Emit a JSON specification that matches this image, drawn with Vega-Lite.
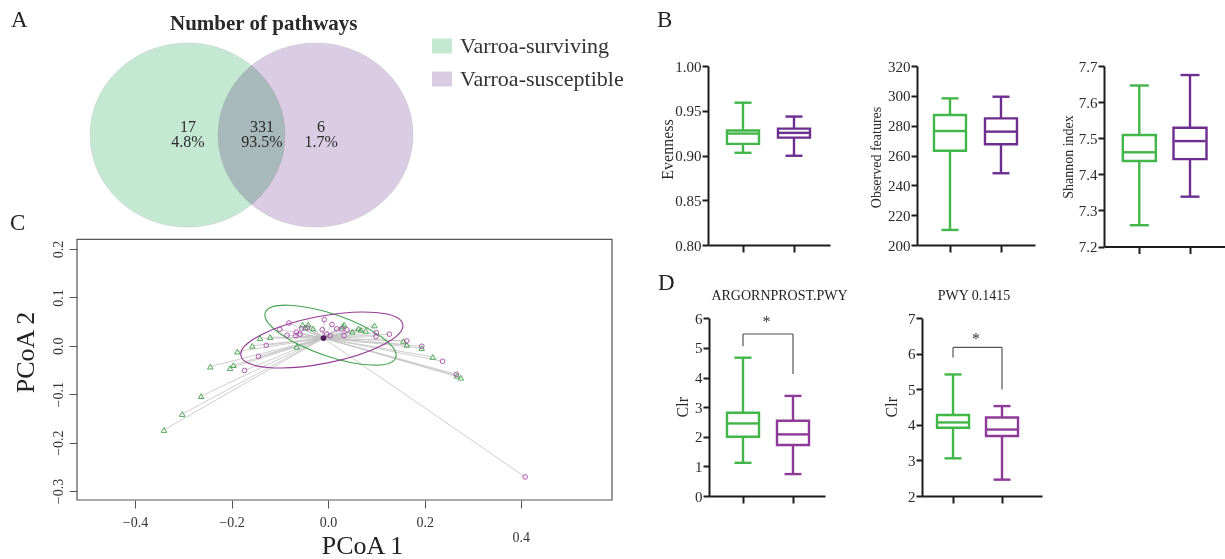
{
  "$schema": "https://vega.github.io/schema/vega-lite/v6.json",
  "width": 1225,
  "height": 559,
  "padding": 0,
  "autosize": {"type": "none"},
  "background": "white",
  "config": {
    "view": {"stroke": null},
    "font": "Liberation Serif",
    "text": {"font": "Liberation Serif", "color": "#222"},
    "axis": {
      "grid": false,
      "labelFont": "Liberation Serif",
      "titleFont": "Liberation Serif",
      "labelFontSize": 15,
      "titleFontSize": 15,
      "labelColor": "#2a2a2a",
      "titleColor": "#2a2a2a",
      "titleFontWeight": "normal",
      "domainColor": "#1c1c1c",
      "tickColor": "#1c1c1c",
      "domainWidth": 2,
      "tickWidth": 2,
      "tickSize": 6,
      "labelPadding": 1,
      "titleAlign": "center",
      "titleBaseline": "alphabetic"
    },
    "axisY": {"titleAngle": 270}
  },
  "datasets": {
    "venn": [
      {"set": "Varroa-surviving", "cx": 0, "cy": 0},
      {"set": "Varroa-susceptible", "cx": 1.313, "cy": 0}
    ],
    "regions": [
      {"region": "Varroa-surviving only", "n": "17", "pct": "4.8%", "lx": 0.005},
      {"region": "Both", "n": "331", "pct": "93.5%", "lx": 0.764},
      {"region": "Varroa-susceptible only", "n": "6", "pct": "1.7%", "lx": 1.37}
    ],
    "boxes": [
      {"panel": "B1", "grp": "Varroa-surviving", "pos": 1, "min": 0.903, "q1": 0.913, "med": 0.9245, "q3": 0.928, "max": 0.959},
      {"panel": "B1", "grp": "Varroa-susceptible", "pos": 2, "min": 0.8997, "q1": 0.92, "med": 0.9253, "q3": 0.93, "max": 0.9435},
      {"panel": "B2", "grp": "Varroa-surviving", "pos": 1, "min": 210.1, "q1": 263.2, "med": 276.4, "q3": 287.2, "max": 298.3},
      {"panel": "B2", "grp": "Varroa-susceptible", "pos": 2, "min": 248.1, "q1": 267.5, "med": 276.0, "q3": 284.9, "max": 299.4},
      {"panel": "B3", "grp": "Varroa-surviving", "pos": 1, "min": 7.259, "q1": 7.437, "med": 7.461, "q3": 7.509, "max": 7.646},
      {"panel": "B3", "grp": "Varroa-susceptible", "pos": 2, "min": 7.338, "q1": 7.442, "med": 7.492, "q3": 7.529, "max": 7.675},
      {"panel": "D1", "grp": "Varroa-surviving", "pos": 1, "min": 1.12, "q1": 2.0, "med": 2.45, "q3": 2.81, "max": 4.67},
      {"panel": "D1", "grp": "Varroa-susceptible", "pos": 2, "min": 0.74, "q1": 1.72, "med": 2.08, "q3": 2.54, "max": 3.38},
      {"panel": "D2", "grp": "Varroa-surviving", "pos": 1, "min": 3.06, "q1": 3.92, "med": 4.07, "q3": 4.28, "max": 5.42},
      {"panel": "D2", "grp": "Varroa-susceptible", "pos": 2, "min": 2.46, "q1": 3.69, "med": 3.87, "q3": 4.21, "max": 4.53}
    ],
    "sig": [
      {"panel": "D1", "top": 5.47, "left": 5.06, "right": 4.12, "label": "*", "stary": 5.72},
      {"panel": "D2", "top": 6.18, "left": 5.9, "right": 5.0, "label": "*", "stary": 6.28}
    ],
    "centroids": [
      {"grp": "Varroa-surviving", "cx": -0.009, "cy": 0.016},
      {"grp": "Varroa-susceptible", "cx": -0.01, "cy": 0.016}
    ],
    "ellipses": [
      {"grp": "Varroa-surviving", "x": 0.005, "y": 0.022},
      {"grp": "Varroa-susceptible", "x": -0.013, "y": 0.012}
    ],
    "pcoa": [
      {"grp": "Varroa-surviving", "x": -0.34, "y": -0.174},
      {"grp": "Varroa-surviving", "x": -0.302, "y": -0.141},
      {"grp": "Varroa-surviving", "x": -0.263, "y": -0.104},
      {"grp": "Varroa-surviving", "x": -0.244, "y": -0.043},
      {"grp": "Varroa-surviving", "x": -0.203, "y": -0.046},
      {"grp": "Varroa-surviving", "x": -0.196, "y": -0.04},
      {"grp": "Varroa-surviving", "x": -0.188, "y": -0.012},
      {"grp": "Varroa-surviving", "x": -0.157, "y": 0.0},
      {"grp": "Varroa-surviving", "x": -0.141, "y": 0.016},
      {"grp": "Varroa-surviving", "x": -0.12, "y": 0.018},
      {"grp": "Varroa-surviving", "x": -0.065, "y": -0.002},
      {"grp": "Varroa-surviving", "x": -0.053, "y": 0.044},
      {"grp": "Varroa-surviving", "x": -0.041, "y": 0.044},
      {"grp": "Varroa-surviving", "x": -0.047, "y": 0.038},
      {"grp": "Varroa-surviving", "x": -0.031, "y": 0.036},
      {"grp": "Varroa-surviving", "x": 0.033, "y": 0.044},
      {"grp": "Varroa-surviving", "x": 0.031, "y": 0.04},
      {"grp": "Varroa-surviving", "x": 0.05, "y": 0.029},
      {"grp": "Varroa-surviving", "x": 0.063, "y": 0.036},
      {"grp": "Varroa-surviving", "x": 0.068, "y": 0.033},
      {"grp": "Varroa-surviving", "x": 0.078, "y": 0.031},
      {"grp": "Varroa-surviving", "x": 0.096, "y": 0.042},
      {"grp": "Varroa-surviving", "x": 0.156, "y": 0.01},
      {"grp": "Varroa-surviving", "x": 0.163, "y": 0.002},
      {"grp": "Varroa-surviving", "x": 0.194, "y": -0.005},
      {"grp": "Varroa-surviving", "x": 0.217, "y": -0.023},
      {"grp": "Varroa-surviving", "x": 0.275, "y": -0.066},
      {"grp": "Varroa-surviving", "x": 0.267, "y": -0.062},
      {"grp": "Varroa-susceptible", "x": -0.173, "y": -0.051},
      {"grp": "Varroa-susceptible", "x": -0.144, "y": -0.022},
      {"grp": "Varroa-susceptible", "x": -0.128, "y": 0.001},
      {"grp": "Varroa-susceptible", "x": -0.1, "y": 0.034},
      {"grp": "Varroa-susceptible", "x": -0.081, "y": 0.047},
      {"grp": "Varroa-susceptible", "x": -0.085, "y": 0.022},
      {"grp": "Varroa-susceptible", "x": -0.066, "y": 0.028},
      {"grp": "Varroa-susceptible", "x": -0.067, "y": 0.021},
      {"grp": "Varroa-susceptible", "x": -0.058, "y": 0.024},
      {"grp": "Varroa-susceptible", "x": -0.055, "y": 0.035},
      {"grp": "Varroa-susceptible", "x": -0.043, "y": 0.037},
      {"grp": "Varroa-susceptible", "x": -0.008, "y": 0.054},
      {"grp": "Varroa-susceptible", "x": 0.008, "y": 0.044},
      {"grp": "Varroa-susceptible", "x": -0.012, "y": 0.033},
      {"grp": "Varroa-susceptible", "x": -0.003, "y": 0.024},
      {"grp": "Varroa-susceptible", "x": 0.004, "y": 0.021},
      {"grp": "Varroa-susceptible", "x": 0.018, "y": 0.035},
      {"grp": "Varroa-susceptible", "x": 0.028, "y": 0.035},
      {"grp": "Varroa-susceptible", "x": 0.039, "y": 0.033},
      {"grp": "Varroa-susceptible", "x": 0.033, "y": 0.021},
      {"grp": "Varroa-susceptible", "x": 0.1, "y": 0.027},
      {"grp": "Varroa-susceptible", "x": 0.099, "y": 0.019},
      {"grp": "Varroa-susceptible", "x": 0.127, "y": 0.024},
      {"grp": "Varroa-susceptible", "x": 0.163, "y": 0.01},
      {"grp": "Varroa-susceptible", "x": 0.194, "y": -0.001},
      {"grp": "Varroa-susceptible", "x": 0.237, "y": -0.032},
      {"grp": "Varroa-susceptible", "x": 0.266, "y": -0.059},
      {"grp": "Varroa-susceptible", "x": 0.408, "y": -0.271}
    ]
  },
  "resolve": {
    "scale": {"x": "independent", "y": "independent", "color": "independent", "stroke": "independent"},
    "axis": {"x": "independent", "y": "independent"},
    "legend": {"color": "independent", "stroke": "independent"}
  },
  "layer": [
    {
      "layer": [
        {
          "data": {"name": "venn"},
          "mark": {"type": "point", "shape": "M-1,0C-1,-0.521,-0.552,-0.944,0,-0.944C0.552,-0.944,1,-0.521,1,0C1,0.521,0.552,0.944,0,0.944C-0.552,0.944,-1,0.521,-1,0Z", "size": 38025, "filled": true, "opacity": 1, "blend": "multiply", "stroke": "#b4b4bc", "strokeWidth": 0.6, "strokeOpacity": 0.5},
          "encoding": {
            "x": {"field": "cx", "type": "quantitative", "scale": {"domain": [-2, 4.6], "range": [-7.5, 636], "nice": false, "zero": false, "padding": 0}, "axis": null},
            "y": {"field": "cy", "type": "quantitative", "scale": {"domain": [-1, 1], "range": [227, 43], "nice": false, "zero": false, "padding": 0}, "axis": null},
            "color": {
              "field": "set", "type": "nominal",
              "scale": {"domain": ["Varroa-surviving", "Varroa-susceptible"], "range": ["#c5e8d3", "#dacce3"]},
              "legend": {"orient": "none", "legendX": 431, "legendY": 35, "title": null, "symbolType": "M-1,-0.75L1,-0.75L1,0.75L-1,0.75Z", "symbolSize": 400, "symbolStrokeWidth": 0, "symbolOpacity": 1, "labelFont": "Liberation Serif", "labelFontSize": 22, "labelColor": "#333", "labelOffset": 7, "labelLimit": 0, "rowPadding": 11, "padding": 0}
            }
          }
        },
        {
          "data": {"name": "regions"},
          "mark": {"type": "text", "fontSize": 16, "align": "center", "baseline": "alphabetic", "color": "#2a2a2a"},
          "encoding": {"text": {"field": "n"}, "x": {"field": "lx", "type": "quantitative"}, "y": {"datum": 0.036}}
        },
        {
          "data": {"name": "regions"},
          "mark": {"type": "text", "fontSize": 16, "align": "center", "baseline": "alphabetic", "color": "#2a2a2a"},
          "encoding": {"text": {"field": "pct"}, "x": {"field": "lx", "type": "quantitative"}, "y": {"datum": -0.127}}
        },
        {
          "data": {"values": [{"t": "Number of pathways"}]},
          "mark": {"type": "text", "fontSize": 21, "fontWeight": "bold", "align": "center", "baseline": "alphabetic", "color": "#2a2a2a"},
          "encoding": {"text": {"field": "t"}, "x": {"datum": 0.782}, "y": {"datum": 1.141}}
        },
        {
          "data": {"values": [{"t": "A"}]},
          "mark": {"type": "text", "fontSize": 23, "align": "left", "baseline": "alphabetic", "color": "#222"},
          "encoding": {"text": {"field": "t"}, "x": {"datum": -1.81}, "y": {"datum": 1.174}}
        }
      ]
    },
    {
      "layer": [
        {
          "data": {"name": "pcoa"},
          "transform": [{"lookup": "grp", "from": {"data": {"name": "centroids"}, "key": "grp", "fields": ["cx", "cy"]}}],
          "mark": {"type": "rule", "color": "#c2c2c2", "strokeWidth": 0.8},
          "encoding": {
            "x": {"field": "x", "type": "quantitative", "scale": {"domain": [-0.52, 0.588], "range": [77, 612], "nice": false, "zero": false, "padding": 0},
              "axis": {"orient": "bottom", "offset": -59, "values": [-0.4, -0.2, 0, 0.2, 0.4], "format": ".1f", "labelExpr": "datum.value > 0.3 ? '' : datum.label", "domain": false, "tickSize": 8, "tickWidth": 1, "tickColor": "#555", "labelFontSize": 14, "labelColor": "#333", "labelBaseline": "alphabetic", "labelPadding": 18, "labelFlush": false, "title": "PCoA 1", "titleFontSize": 26, "titleColor": "#222", "titleX": 362, "titleY": 53, "titleAngle": 0}},
            "y": {"field": "y", "type": "quantitative", "scale": {"domain": [-0.3186, 0.22], "range": [500, 239.3], "nice": false, "zero": false, "padding": 0},
              "axis": {"orient": "left", "offset": -77, "values": [-0.3, -0.2, -0.1, 0, 0.1, 0.2], "format": ".1f", "domain": false, "tickSize": 8, "tickWidth": 1, "tickColor": "#555", "labelFontSize": 14, "labelColor": "#333", "labelAngle": 270, "labelAlign": "center", "labelBaseline": "alphabetic", "labelPadding": 7, "title": "PCoA 2", "titleFontSize": 26, "titleColor": "#222", "titleX": -43.5, "titleY": 352}},
            "x2": {"field": "cx"},
            "y2": {"field": "cy"}
          }
        },
        {
          "data": {"values": [{}]},
          "mark": {"type": "rect", "filled": false, "color": "#555", "strokeWidth": 1.2},
          "encoding": {"x": {"datum": -0.52}, "x2": {"datum": 0.588}, "y": {"datum": -0.3186}, "y2": {"datum": 0.22}}
        },
        {
          "data": {"name": "ellipses"},
          "transform": [{"filter": "datum.grp === 'Varroa-surviving'"}],
          "mark": {"type": "point", "shape": "M-1,0C-1,-0.168,-0.552,-0.304,0,-0.304C0.552,-0.304,1,-0.168,1,0C1,0.168,0.552,0.304,0,0.304C-0.552,0.304,-1,0.168,-1,0Z", "size": 19044, "angle": 19, "filled": false, "opacity": 1, "color": "#45a352", "strokeWidth": 1.1},
          "encoding": {"x": {"field": "x", "type": "quantitative"}, "y": {"field": "y", "type": "quantitative"}}
        },
        {
          "data": {"name": "ellipses"},
          "transform": [{"filter": "datum.grp === 'Varroa-susceptible'"}],
          "mark": {"type": "point", "shape": "M-1,0C-1,-0.158,-0.552,-0.286,0,-0.286C0.552,-0.286,1,-0.158,1,0C1,0.158,0.552,0.286,0,0.286C-0.552,0.286,-1,0.158,-1,0Z", "size": 27225, "angle": -11, "filled": false, "opacity": 1, "color": "#953a94", "strokeWidth": 1.1},
          "encoding": {"x": {"field": "x", "type": "quantitative"}, "y": {"field": "y", "type": "quantitative"}}
        },
        {
          "data": {"name": "pcoa"},
          "transform": [{"filter": "datum.grp === 'Varroa-surviving'"}],
          "mark": {"type": "point", "shape": "triangle-up", "size": 30, "filled": false, "opacity": 1, "color": "#3f9f4a", "strokeWidth": 0.9},
          "encoding": {"x": {"field": "x", "type": "quantitative"}, "y": {"field": "y", "type": "quantitative"}}
        },
        {
          "data": {"name": "pcoa"},
          "transform": [{"filter": "datum.grp === 'Varroa-susceptible'"}],
          "mark": {"type": "point", "shape": "circle", "size": 22, "filled": false, "opacity": 1, "color": "#a64aa6", "strokeWidth": 0.9},
          "encoding": {"x": {"field": "x", "type": "quantitative"}, "y": {"field": "y", "type": "quantitative"}}
        },
        {
          "data": {"name": "centroids"},
          "mark": {"type": "point", "shape": "circle", "size": 28, "filled": true, "opacity": 1, "color": "#4f1a5c"},
          "encoding": {"x": {"field": "cx", "type": "quantitative"}, "y": {"field": "cy", "type": "quantitative"}}
        },
        {
          "data": {"values": [{"t": "0.4"}]},
          "mark": {"type": "text", "fontSize": 14, "align": "center", "baseline": "alphabetic", "color": "#333"},
          "encoding": {"text": {"field": "t"}, "x": {"datum": 0.4}, "y": {"datum": -0.405}}
        },
        {
          "data": {"values": [{"t": "C"}]},
          "mark": {"type": "text", "fontSize": 23, "align": "left", "baseline": "alphabetic", "color": "#222"},
          "encoding": {"text": {"field": "t"}, "x": {"datum": -0.659}, "y": {"datum": 0.239}}
        }
      ]
    },
    {
      "layer": [
        {
          "data": {"name": "boxes"},
          "transform": [{"filter": "datum.panel === 'B1'"}],
          "encoding": {
            "x": {"field": "pos", "type": "quantitative", "scale": {"domain": [0.314, 2.706], "range": [708, 830], "nice": false, "zero": false, "padding": 0},
              "axis": {"orient": "bottom", "offset": -314, "values": [1, 2], "labels": false, "title": null, "tickSize": 7}}
          },
          "layer": [
            {
              "mark": {"type": "rule", "strokeWidth": 2.4},
              "encoding": {
                "y": {"field": "min", "type": "quantitative", "scale": {"domain": [0.8, 1.0], "range": [245, 66], "nice": false, "zero": false, "padding": 0},
                  "axis": {"orient": "left", "offset": -708, "values": [0.8, 0.85, 0.9, 0.95, 1.0], "format": ".2f", "title": "Evenness", "titleFontSize": 16, "titleX": -36, "titleY": 149}},
                "y2": {"field": "max"},
                "color": {"field": "grp", "type": "nominal", "scale": {"domain": ["Varroa-surviving", "Varroa-susceptible"], "range": ["#42b649", "#6c2e8f"]}, "legend": null}
              }
            },
            {
              "mark": {"type": "bar", "width": 32, "fill": "white", "strokeWidth": 2.4, "opacity": 1},
              "encoding": {
                "y": {"field": "q1", "type": "quantitative"}, "y2": {"field": "q3"},
                "stroke": {"field": "grp", "type": "nominal", "scale": {"domain": ["Varroa-surviving", "Varroa-susceptible"], "range": ["#42b649", "#6c2e8f"]}, "legend": null}
              }
            },
            {
              "mark": {"type": "tick", "orient": "horizontal", "size": 30, "thickness": 2.4, "opacity": 1},
              "encoding": {"y": {"field": "med", "type": "quantitative"}, "color": {"field": "grp", "type": "nominal", "legend": null}}
            },
            {
              "mark": {"type": "tick", "orient": "horizontal", "size": 17, "thickness": 2.4, "opacity": 1},
              "encoding": {"y": {"field": "min", "type": "quantitative"}, "color": {"field": "grp", "type": "nominal", "legend": null}}
            },
            {
              "mark": {"type": "tick", "orient": "horizontal", "size": 17, "thickness": 2.4, "opacity": 1},
              "encoding": {"y": {"field": "max", "type": "quantitative"}, "color": {"field": "grp", "type": "nominal", "legend": null}}
            }
          ]
        },
        {
          "data": {"values": [{"t": "B"}]},
          "mark": {"type": "text", "fontSize": 23, "align": "left", "baseline": "alphabetic", "color": "#222"},
          "encoding": {"text": {"field": "t"}, "x": {"datum": -0.686}, "y": {"datum": 1.0438}}
        }
      ]
    },
    {
      "data": {"name": "boxes"},
      "transform": [{"filter": "datum.panel === 'B2'"}],
      "encoding": {
        "x": {"field": "pos", "type": "quantitative", "scale": {"domain": [0.353, 2.667], "range": [917, 1035], "nice": false, "zero": false, "padding": 0},
          "axis": {"orient": "bottom", "offset": -314, "values": [1, 2], "labels": false, "title": null, "tickSize": 7}}
      },
      "layer": [
        {
          "mark": {"type": "rule", "strokeWidth": 2.4},
          "encoding": {
            "y": {"field": "min", "type": "quantitative", "scale": {"domain": [200, 320], "range": [245, 66], "nice": false, "zero": false, "padding": 0},
              "axis": {"orient": "left", "offset": -917, "values": [200, 220, 240, 260, 280, 300, 320], "format": "d", "title": "Observed features", "titleFontSize": 14, "titleX": -37, "titleY": 157}},
            "y2": {"field": "max"},
            "color": {"field": "grp", "type": "nominal", "scale": {"domain": ["Varroa-surviving", "Varroa-susceptible"], "range": ["#42b649", "#6c2e8f"]}, "legend": null}
          }
        },
        {
          "mark": {"type": "bar", "width": 32, "fill": "white", "strokeWidth": 2.4, "opacity": 1},
          "encoding": {
            "y": {"field": "q1", "type": "quantitative"}, "y2": {"field": "q3"},
            "stroke": {"field": "grp", "type": "nominal", "scale": {"domain": ["Varroa-surviving", "Varroa-susceptible"], "range": ["#42b649", "#6c2e8f"]}, "legend": null}
          }
        },
        {
          "mark": {"type": "tick", "orient": "horizontal", "size": 30, "thickness": 2.4, "opacity": 1},
          "encoding": {"y": {"field": "med", "type": "quantitative"}, "color": {"field": "grp", "type": "nominal", "legend": null}}
        },
        {
          "mark": {"type": "tick", "orient": "horizontal", "size": 17, "thickness": 2.4, "opacity": 1},
          "encoding": {"y": {"field": "min", "type": "quantitative"}, "color": {"field": "grp", "type": "nominal", "legend": null}}
        },
        {
          "mark": {"type": "tick", "orient": "horizontal", "size": 17, "thickness": 2.4, "opacity": 1},
          "encoding": {"y": {"field": "max", "type": "quantitative"}, "color": {"field": "grp", "type": "nominal", "legend": null}}
        }
      ]
    },
    {
      "data": {"name": "boxes"},
      "transform": [{"filter": "datum.panel === 'B3'"}],
      "encoding": {
        "x": {"field": "pos", "type": "quantitative", "scale": {"domain": [0.304, 2.69], "range": [1104, 1225], "nice": false, "zero": false, "padding": 0},
          "axis": {"orient": "bottom", "offset": -312.5, "values": [1, 2], "labels": false, "title": null, "tickSize": 7}}
      },
      "layer": [
        {
          "mark": {"type": "rule", "strokeWidth": 2.4},
          "encoding": {
            "y": {"field": "min", "type": "quantitative", "scale": {"domain": [7.2, 7.7], "range": [246.5, 66], "nice": false, "zero": false, "padding": 0},
              "axis": {"orient": "left", "offset": -1104, "values": [7.2, 7.3, 7.4, 7.5, 7.6, 7.7], "format": ".1f", "title": "Shannon index", "titleFontSize": 14, "titleX": -32, "titleY": 156.5}},
            "y2": {"field": "max"},
            "color": {"field": "grp", "type": "nominal", "scale": {"domain": ["Varroa-surviving", "Varroa-susceptible"], "range": ["#42b649", "#6c2e8f"]}, "legend": null}
          }
        },
        {
          "mark": {"type": "bar", "width": 33, "fill": "white", "strokeWidth": 2.4, "opacity": 1},
          "encoding": {
            "y": {"field": "q1", "type": "quantitative"}, "y2": {"field": "q3"},
            "stroke": {"field": "grp", "type": "nominal", "scale": {"domain": ["Varroa-surviving", "Varroa-susceptible"], "range": ["#42b649", "#6c2e8f"]}, "legend": null}
          }
        },
        {
          "mark": {"type": "tick", "orient": "horizontal", "size": 31, "thickness": 2.4, "opacity": 1},
          "encoding": {"y": {"field": "med", "type": "quantitative"}, "color": {"field": "grp", "type": "nominal", "legend": null}}
        },
        {
          "mark": {"type": "tick", "orient": "horizontal", "size": 19, "thickness": 2.4, "opacity": 1},
          "encoding": {"y": {"field": "min", "type": "quantitative"}, "color": {"field": "grp", "type": "nominal", "legend": null}}
        },
        {
          "mark": {"type": "tick", "orient": "horizontal", "size": 19, "thickness": 2.4, "opacity": 1},
          "encoding": {"y": {"field": "max", "type": "quantitative"}, "color": {"field": "grp", "type": "nominal", "legend": null}}
        }
      ]
    },
    {
      "layer": [
        {
          "data": {"name": "boxes"},
          "transform": [{"filter": "datum.panel === 'D1'"}],
          "encoding": {
            "x": {"field": "pos", "type": "quantitative", "scale": {"domain": [0.32, 2.64], "range": [709, 825], "nice": false, "zero": false, "padding": 0},
              "axis": {"orient": "bottom", "offset": -63, "values": [1, 2], "labels": false, "title": null, "tickSize": 7}}
          },
          "layer": [
            {
              "mark": {"type": "rule", "strokeWidth": 2.4},
              "encoding": {
                "y": {"field": "min", "type": "quantitative", "scale": {"domain": [0, 6], "range": [496, 318.3], "nice": false, "zero": false, "padding": 0},
                  "axis": {"orient": "left", "offset": -709, "values": [0, 1, 2, 3, 4, 5, 6], "format": "d", "title": "Clr", "titleFontSize": 16, "titleX": -22, "titleY": 406.7}},
                "y2": {"field": "max"},
                "color": {"field": "grp", "type": "nominal", "scale": {"domain": ["Varroa-surviving", "Varroa-susceptible"], "range": ["#42b649", "#8d3a98"]}, "legend": null}
              }
            },
            {
              "mark": {"type": "bar", "width": 32, "fill": "white", "strokeWidth": 2.4, "opacity": 1},
              "encoding": {
                "y": {"field": "q1", "type": "quantitative"}, "y2": {"field": "q3"},
                "stroke": {"field": "grp", "type": "nominal", "scale": {"domain": ["Varroa-surviving", "Varroa-susceptible"], "range": ["#42b649", "#8d3a98"]}, "legend": null}
              }
            },
            {
              "mark": {"type": "tick", "orient": "horizontal", "size": 30, "thickness": 2.4, "opacity": 1},
              "encoding": {"y": {"field": "med", "type": "quantitative"}, "color": {"field": "grp", "type": "nominal", "legend": null}}
            },
            {
              "mark": {"type": "tick", "orient": "horizontal", "size": 17, "thickness": 2.4, "opacity": 1},
              "encoding": {"y": {"field": "min", "type": "quantitative"}, "color": {"field": "grp", "type": "nominal", "legend": null}}
            },
            {
              "mark": {"type": "tick", "orient": "horizontal", "size": 17, "thickness": 2.4, "opacity": 1},
              "encoding": {"y": {"field": "max", "type": "quantitative"}, "color": {"field": "grp", "type": "nominal", "legend": null}}
            }
          ]
        },
        {
          "data": {"name": "sig"},
          "transform": [{"filter": "datum.panel === 'D1'"}],
          "layer": [
            {
              "mark": {"type": "rule", "color": "#555", "strokeWidth": 1.2},
              "encoding": {"x": {"datum": 1}, "x2": {"datum": 2}, "y": {"field": "top", "type": "quantitative"}}
            },
            {
              "mark": {"type": "rule", "color": "#555", "strokeWidth": 1.2},
              "encoding": {"x": {"datum": 1}, "y": {"field": "top", "type": "quantitative"}, "y2": {"field": "left"}}
            },
            {
              "mark": {"type": "rule", "color": "#555", "strokeWidth": 1.2},
              "encoding": {"x": {"datum": 2}, "y": {"field": "top", "type": "quantitative"}, "y2": {"field": "right"}}
            },
            {
              "mark": {"type": "text", "fontSize": 16, "align": "center", "baseline": "alphabetic", "color": "#333"},
              "encoding": {"text": {"field": "label"}, "x": {"datum": 1.47}, "y": {"field": "stary", "type": "quantitative"}}
            }
          ]
        },
        {
          "data": {"values": [{"t": "ARGORNPROST.PWY"}]},
          "mark": {"type": "text", "fontSize": 14, "align": "center", "baseline": "alphabetic", "color": "#222"},
          "encoding": {"text": {"field": "t"}, "x": {"datum": 1.73}, "y": {"datum": 6.618}}
        },
        {
          "data": {"values": [{"t": "D"}]},
          "mark": {"type": "text", "fontSize": 23, "align": "left", "baseline": "alphabetic", "color": "#222"},
          "encoding": {"text": {"field": "t"}, "x": {"datum": -0.7}, "y": {"datum": 6.955}}
        }
      ]
    },
    {
      "layer": [
        {
          "data": {"name": "boxes"},
          "transform": [{"filter": "datum.panel === 'D2'"}],
          "encoding": {
            "x": {"field": "pos", "type": "quantitative", "scale": {"domain": [0.367, 2.816], "range": [922, 1042], "nice": false, "zero": false, "padding": 0},
              "axis": {"orient": "bottom", "offset": -63, "values": [1, 2], "labels": false, "title": null, "tickSize": 7}}
          },
          "layer": [
            {
              "mark": {"type": "rule", "strokeWidth": 2.4},
              "encoding": {
                "y": {"field": "min", "type": "quantitative", "scale": {"domain": [2, 7], "range": [496, 318.3], "nice": false, "zero": false, "padding": 0},
                  "axis": {"orient": "left", "offset": -922, "values": [2, 3, 4, 5, 6, 7], "format": "d", "title": "Clr", "titleFontSize": 16, "titleX": -25.3, "titleY": 406.7}},
                "y2": {"field": "max"},
                "color": {"field": "grp", "type": "nominal", "scale": {"domain": ["Varroa-surviving", "Varroa-susceptible"], "range": ["#42b649", "#8d3a98"]}, "legend": null}
              }
            },
            {
              "mark": {"type": "bar", "width": 32, "fill": "white", "strokeWidth": 2.4, "opacity": 1},
              "encoding": {
                "y": {"field": "q1", "type": "quantitative"}, "y2": {"field": "q3"},
                "stroke": {"field": "grp", "type": "nominal", "scale": {"domain": ["Varroa-surviving", "Varroa-susceptible"], "range": ["#42b649", "#8d3a98"]}, "legend": null}
              }
            },
            {
              "mark": {"type": "tick", "orient": "horizontal", "size": 30, "thickness": 2.4, "opacity": 1},
              "encoding": {"y": {"field": "med", "type": "quantitative"}, "color": {"field": "grp", "type": "nominal", "legend": null}}
            },
            {
              "mark": {"type": "tick", "orient": "horizontal", "size": 17, "thickness": 2.4, "opacity": 1},
              "encoding": {"y": {"field": "min", "type": "quantitative"}, "color": {"field": "grp", "type": "nominal", "legend": null}}
            },
            {
              "mark": {"type": "tick", "orient": "horizontal", "size": 17, "thickness": 2.4, "opacity": 1},
              "encoding": {"y": {"field": "max", "type": "quantitative"}, "color": {"field": "grp", "type": "nominal", "legend": null}}
            }
          ]
        },
        {
          "data": {"name": "sig"},
          "transform": [{"filter": "datum.panel === 'D2'"}],
          "layer": [
            {
              "mark": {"type": "rule", "color": "#555", "strokeWidth": 1.2},
              "encoding": {"x": {"datum": 1}, "x2": {"datum": 2}, "y": {"field": "top", "type": "quantitative"}}
            },
            {
              "mark": {"type": "rule", "color": "#555", "strokeWidth": 1.2},
              "encoding": {"x": {"datum": 1}, "y": {"field": "top", "type": "quantitative"}, "y2": {"field": "left"}}
            },
            {
              "mark": {"type": "rule", "color": "#555", "strokeWidth": 1.2},
              "encoding": {"x": {"datum": 2}, "y": {"field": "top", "type": "quantitative"}, "y2": {"field": "right"}}
            },
            {
              "mark": {"type": "text", "fontSize": 16, "align": "center", "baseline": "alphabetic", "color": "#333"},
              "encoding": {"text": {"field": "label"}, "x": {"datum": 1.47}, "y": {"field": "stary", "type": "quantitative"}}
            }
          ]
        },
        {
          "data": {"values": [{"t": "PWY 0.1415"}]},
          "mark": {"type": "text", "fontSize": 14, "align": "center", "baseline": "alphabetic", "color": "#222"},
          "encoding": {"text": {"field": "t"}, "x": {"datum": 1.429}, "y": {"datum": 7.515}}
        }
      ]
    }
  ]
}
